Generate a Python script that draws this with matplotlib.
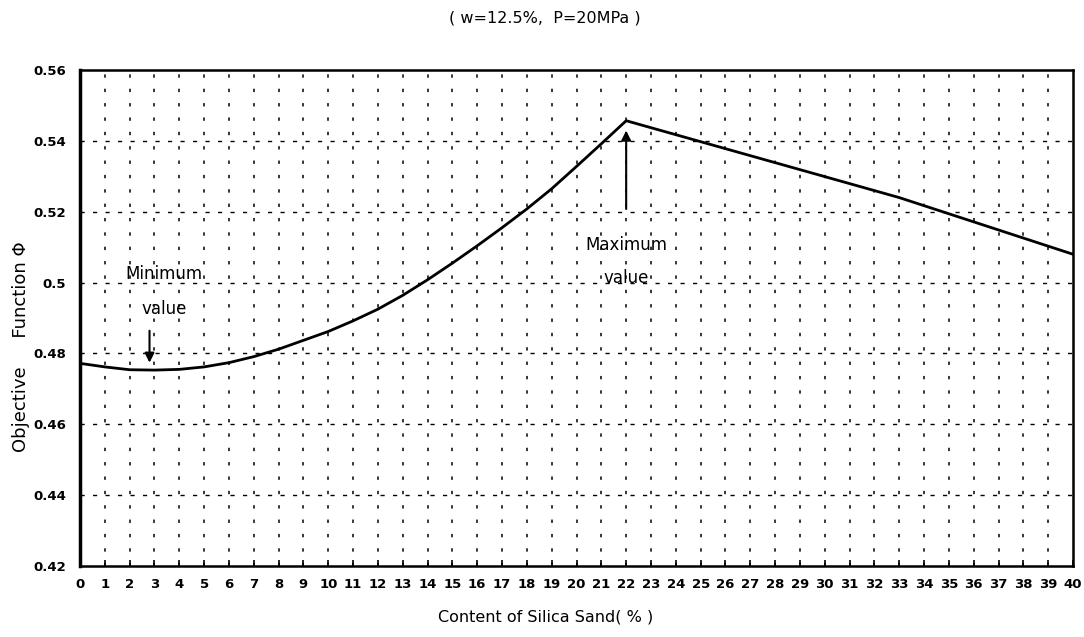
import matplotlib
matplotlib.use("Agg")
import matplotlib.pyplot as plt

plt.rcParams['font.family'] = ['DejaVu Sans', 'Noto Sans CJK JP']

# Data
silica = [0, 1, 2, 3, 4, 5, 6, 7, 8, 9, 10, 11, 12, 13, 14, 15, 16, 17, 18,
          19, 20, 21, 22, 33, 40]
phi = [0.4772, 0.4762, 0.4754, 0.4753, 0.4755, 0.4762, 0.4774, 0.4791,
       0.4812, 0.4837, 0.4862, 0.4892, 0.4925, 0.4964, 0.5008, 0.5055,
       0.5104, 0.5155, 0.5208, 0.5265, 0.5328, 0.5392, 0.5457, 0.5240,
       0.5080]
xticks = list(range(0, 41))
yticks = [0.42, 0.44, 0.46, 0.48, 0.5, 0.52, 0.54, 0.56]
ytick_labels = ['0.42', '0.44', '0.46', '0.48', '0.5', '0.52', '0.54', '0.56']

title = '( w=12.5%,  P=20MPa )'
xlabel = 'Content of Silica Sand( % )'

fig = plt.figure(figsize=(10.84, 6.37), dpi=100)
ax = fig.add_axes([0.0738, 0.1115, 0.9161, 0.7785])

# grid
for yv in yticks[1:-1]:
    ax.axhline(yv, color='black', lw=1.0, ls=(0, (3, 6)), zorder=1)
for xv in xticks[1:-1]:
    ax.axvline(xv, color='black', lw=1.1, ls=(0, (2.2, 7.2)), zorder=1)

ax.plot(silica, phi, color='black', lw=2.0, zorder=3)

ax.set_xlim(0, 40)
ax.set_ylim(0.42, 0.56)
ax.set_xticks(xticks)
ax.set_xticklabels([str(v) for v in xticks], fontsize=9.5, fontweight='bold')
ax.set_yticks(yticks)
ax.set_yticklabels(ytick_labels, fontsize=9.5, fontweight='bold')
ax.tick_params(axis='x', direction='in', length=4, width=1.2, pad=9)
ax.tick_params(axis='y', length=0, pad=10)

ax.spines['left'].set_linewidth(2.5)
for s in ['top', 'right', 'bottom']:
    ax.spines[s].set_linewidth(1.8)

# annotations
ax.text(3.4, 0.5023, 'Minimum', ha='center', va='center', fontsize=12)
ax.text(3.4, 0.4925, 'value', ha='center', va='center', fontsize=12)
ax.annotate('', xy=(2.8, 0.4766), xytext=(2.8, 0.4872),
            arrowprops=dict(arrowstyle='-|>', color='black', lw=1.5,
                            mutation_scale=14))
ax.text(22.0, 0.5106, 'Maximum', ha='center', va='center', fontsize=12)
ax.text(22.0, 0.5013, 'value', ha='center', va='center', fontsize=12)
ax.annotate('', xy=(22.0, 0.5437), xytext=(22.0, 0.5200),
            arrowprops=dict(arrowstyle='-|>', color='black', lw=1.5,
                            mutation_scale=14))

fig.text(0.503, 0.972, title, ha='center', va='center', fontsize=11.5)
fig.text(0.503, 0.031, xlabel, ha='center', va='center', fontsize=11.5)
fig.text(0.019, 0.455, 'Objective     Function Φ', rotation=90, ha='center',
         va='center', fontsize=13)

fig.savefig('out.png', dpi=100)
